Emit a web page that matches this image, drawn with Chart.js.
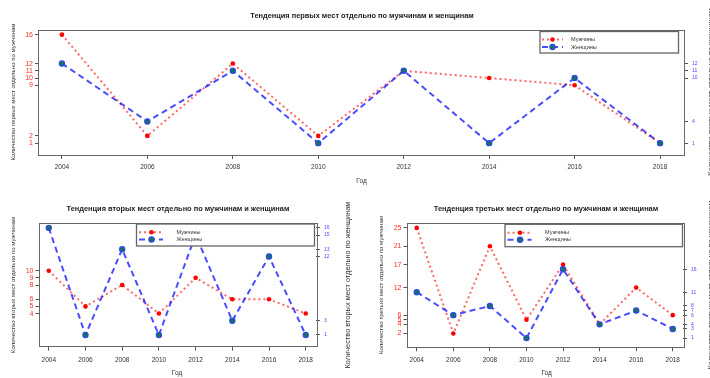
<!DOCTYPE html>
<html><head><meta charset="utf-8">
<script src="https://cdn.jsdelivr.net/npm/chart.js@4/dist/chart.umd.min.js"></script>
<style>
html,body{margin:0;padding:0;background:#fff;width:710px;height:378px;overflow:hidden}
canvas{position:absolute}
</style></head><body>
<canvas id="c1" width="710" height="190" style="left:0;top:0"></canvas>
<canvas id="c2" width="360" height="188" style="left:0;top:190px"></canvas>
<canvas id="c3" width="350" height="188" style="left:360px;top:190px"></canvas>
<script>
// Olympic-style placings per year, split by men and women
const years = [2004, 2006, 2008, 2010, 2012, 2014, 2016, 2018];
const firstMen = [16, 2, 12, 2, 11, 10, 9, 1];
const firstWomen = [12, 4, 11, 1, 11, 1, 10, 1];
const secondMen = [10, 5, 8, 4, 9, 6, 6, 4];
const secondWomen = [16, 1, 13, 1, 15, 3, 12, 1];
const thirdMen = [25, 2, 21, 5, 17, 4, 12, 6];
const thirdWomen = [11, 6, 8, 1, 16, 4, 7, 3];

// one tick per distinct value, as the axes are labelled
const firstMenTicks = [1, 2, 9, 10, 11, 12, 16];
const firstWomenTicks = [1, 4, 10, 11, 12];
const secondMenTicks = [4, 5, 6, 8, 9, 10];
const secondWomenTicks = [1, 3, 12, 13, 15, 16];
const thirdMenTicks = [2, 4, 5, 6, 12, 17, 21, 25];
const thirdWomenTicks = [1, 3, 4, 6, 7, 8, 11, 16];

const seriesNames = ['Мужчины', 'Женщины'];
const xTitle = 'Год';

const FONT = '"Liberation Sans", Arial, sans-serif';
const RED_LINE = 'rgba(255,0,0,0.6)';
const BLUE_LINE = 'rgba(0,0,255,0.7)';
const RED_DASH = [2, 3];
const BLUE_DASH = [6, 4];

function drawSample(ctx, x0, x1, y, color, dash) {
  ctx.save();
  ctx.strokeStyle = color; ctx.lineWidth = 2; ctx.setLineDash(dash);
  ctx.beginPath(); ctx.moveTo(x0, y); ctx.lineTo(x1, y); ctx.stroke();
  ctx.restore();
}
function drawDot(ctx, x, y, isWomen) {
  ctx.save();
  ctx.beginPath(); ctx.arc(x, y, isWomen ? 2.6 : 2.3, 0, Math.PI * 2);
  if (isWomen) { ctx.fillStyle = '#1a7050'; ctx.fill(); ctx.lineWidth = 1.2; ctx.strokeStyle = '#2a4bf0'; ctx.stroke(); }
  else { ctx.fillStyle = '#ff0000'; ctx.fill(); }
  ctx.restore();
}

function decor(o) {
  return {
    id: 'decor',
    afterDatasetsDraw(chart) {
      const ctx = chart.ctx, a = chart.chartArea;
      const ox = o.offset[0], oy = o.offset[1];
      ctx.save();
      ctx.strokeStyle = '#666'; ctx.lineWidth = 1;
      ctx.strokeRect(Math.round(a.left) + 0.5, Math.round(a.top) + 0.5,
        Math.round(a.right - a.left), Math.round(a.bottom - a.top));
      // legend box, drawn over the lines
      const L = o.legend;
      ctx.fillStyle = '#fff';
      ctx.fillRect(L.box[0] - ox, L.box[1] - oy, L.box[2] - L.box[0], L.box[3] - L.box[1]);
      ctx.strokeStyle = '#666'; ctx.lineWidth = 1.3;
      ctx.strokeRect(L.box[0] - ox, L.box[1] - oy, L.box[2] - L.box[0], L.box[3] - L.box[1]);
      const rows = [[RED_LINE, RED_DASH, false], [BLUE_LINE, BLUE_DASH, true]];
      ctx.font = '5.5px ' + FONT;
      ctx.textBaseline = 'middle'; ctx.textAlign = 'left';
      rows.forEach((r, i) => {
        const y = L.rows[i] - oy;
        drawSample(ctx, L.line[0] - ox, L.line[1] - ox, y, r[0], r[1]);
        drawDot(ctx, L.dot - ox, y, r[2]);
        ctx.fillStyle = '#333';
        ctx.fillText(seriesNames[i], L.text - ox, y);
      });
      ctx.restore();
    },
    afterDraw(chart) {
      const ctx = chart.ctx;
      const ox = o.offset[0], oy = o.offset[1];
      ctx.save();
      ctx.textAlign = 'center'; ctx.textBaseline = 'middle';
      ctx.fillStyle = '#222';
      ctx.font = 'bold 7.4px ' + FONT;
      ctx.fillText(o.title, o.titlePos[0] - ox, o.titlePos[1] - oy);
      ctx.fillStyle = '#333';
      ctx.font = '6.5px ' + FONT;
      ctx.fillText(xTitle, o.xTitlePos[0] - ox, o.xTitlePos[1] - oy);
      o.yTitles.forEach(t => {
        ctx.save();
        ctx.translate(t.x - ox, t.y - oy);
        ctx.rotate(-Math.PI / 2);
        ctx.font = t.size + 'px ' + FONT;
        ctx.fillText(t.text, 0, 0);
        ctx.restore();
      });
      ctx.restore();
    }
  };
}

function build(id, o) {
  const top = Math.max(...o.men, ...o.women);
  const yMin = -0.04 * top, yMax = 1.04 * top;
  const span = years[years.length - 1] - years[0];
  const cv = document.getElementById(id);
  const tickFont = (s) => ({ family: FONT, size: s });
  new Chart(cv.getContext('2d'), {
    type: 'line',
    data: {
      datasets: [
        {
          label: seriesNames[1], order: 0, yAxisID: 'yR',
          data: years.map((x, i) => ({ x, y: o.women[i] })),
          borderColor: BLUE_LINE, borderDash: BLUE_DASH, borderWidth: 2, tension: 0,
          pointRadius: 2.6, pointBackgroundColor: '#1a7050', pointBorderColor: '#2a4bf0', pointBorderWidth: 1.2
        },
        {
          label: seriesNames[0], order: 1, yAxisID: 'yL',
          data: years.map((x, i) => ({ x, y: o.men[i] })),
          borderColor: RED_LINE, borderDash: RED_DASH, borderWidth: 2, tension: 0,
          pointRadius: 2.3, pointBackgroundColor: '#ff0000', pointBorderWidth: 0
        }
      ]
    },
    options: {
      responsive: false, animation: false, devicePixelRatio: 1,
      layout: { padding: { left: 0, right: 0, top: o.padTop, bottom: 0 } },
      plugins: { legend: { display: false }, tooltip: { enabled: false }, title: { display: false } },
      scales: {
        x: {
          type: 'linear', position: 'bottom',
          min: years[0] - 0.04 * span, max: years[years.length - 1] + 0.04 * span,
          afterBuildTicks: s => { s.ticks = years.map(v => ({ value: v })); },
          afterFit: s => { s.height = o.xH; },
          ticks: { autoSkip: false, maxRotation: 0, color: '#333', font: tickFont(6.5), padding: o.xPad, callback: v => String(v) },
          grid: { drawOnChartArea: false, tickLength: 4, tickColor: '#555' },
          border: { display: false }
        },
        yL: {
          type: 'linear', position: 'left', min: yMin, max: yMax,
          afterBuildTicks: s => { s.ticks = o.menTicks.map(v => ({ value: v })); },
          afterFit: s => { s.width = o.yLW; },
          ticks: { autoSkip: false, color: '#ff2a2a', font: tickFont(7), padding: 2, callback: v => String(v) },
          grid: { drawOnChartArea: false, tickLength: 3, tickColor: '#555' },
          border: { display: false }
        },
        yR: {
          type: 'linear', position: 'right', min: yMin, max: yMax,
          afterBuildTicks: s => { s.ticks = o.womenTicks.map(v => ({ value: v })); },
          afterFit: s => { s.width = o.yRW; },
          ticks: { autoSkip: false, color: '#4a4aff', font: tickFont(5), padding: o.rPad, callback: v => String(v) },
          grid: { drawOnChartArea: false, tickLength: 4, tickColor: '#555' },
          border: { display: false }
        }
      }
    },
    plugins: [decor(o)]
  });
}

build('c1', {
  offset: [0, 0], men: firstMen, women: firstWomen,
  menTicks: firstMenTicks, womenTicks: firstWomenTicks,
  padTop: 30, xH: 35, yLW: 38, yRW: 26, rPad: 4, xPad: 4.5,
  title: 'Тенденция первых мест отдельно по мужчинам и женщинам', titlePos: [362, 16],
  xTitlePos: [361.5, 181.5],
  yTitles: [
    { text: 'Количество первых мест отдельно по мужчинам', x: 13, y: 92, size: 6.1 },
    { text: 'Количество первых мест отдельно по женщинам', x: 710.5, y: 92, size: 7.4 }
  ],
  legend: { box: [540, 31.5, 678.5, 53], line: [542, 563], dot: 552.5, text: 571, rows: [39.5, 47] }
});

build('c2', {
  offset: [0, 190], men: secondMen, women: secondWomen,
  menTicks: secondMenTicks, womenTicks: secondWomenTicks,
  padTop: 33.3, xH: 31.3, yLW: 38.5, yRW: 44, rPad: 4, xPad: 5.5,
  title: 'Тенденция вторых мест отдельно по мужчинам и женщинам', titlePos: [178, 209],
  xTitlePos: [177, 373.3],
  yTitles: [
    { text: 'Количество вторых мест отдельно по мужчинам', x: 13, y: 285, size: 6.1 },
    { text: 'Количество вторых мест отдельно по женщинам', x: 348.3, y: 285, size: 7.4 }
  ],
  legend: { box: [136.5, 224, 314.5, 246], line: [139, 163], dot: 151.5, text: 176.5, rows: [232.3, 239.5] }
});

build('c3', {
  offset: [360, 190], men: thirdMen, women: thirdWomen,
  menTicks: thirdMenTicks, womenTicks: thirdWomenTicks,
  padTop: 33.3, xH: 30.7, yLW: 46.5, yRW: 27, rPad: 4, xPad: 5.5,
  title: 'Тенденция третьих мест отдельно по мужчинам и женщинам', titlePos: [546, 209],
  xTitlePos: [546.7, 373.3],
  yTitles: [
    { text: 'Количество третьих мест отдельно по мужчинам', x: 381.7, y: 285, size: 6.1 },
    { text: 'Количество третьих мест отдельно по женщинам', x: 710.5, y: 285, size: 7.4 }
  ],
  legend: { box: [505, 224.3, 682.5, 246.7], line: [507.5, 531.5], dot: 520, text: 545, rows: [232.7, 239.7] }
});
</script>
</body></html>
